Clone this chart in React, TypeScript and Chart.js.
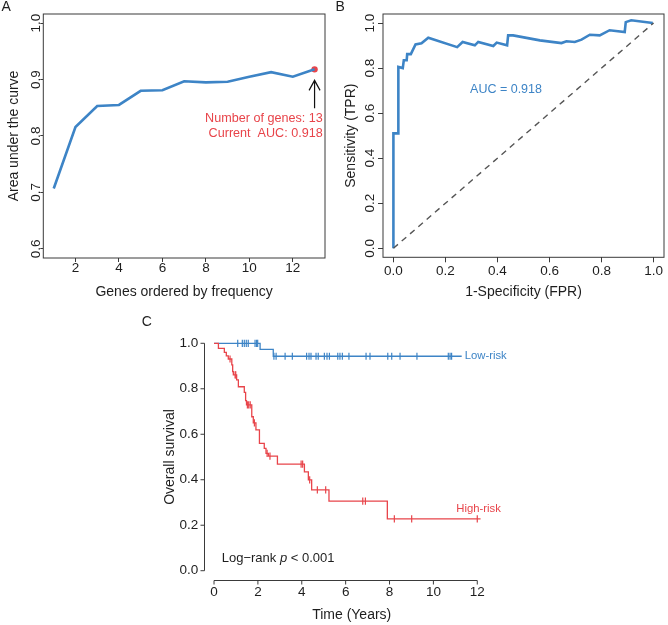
import React, { useEffect, useRef } from 'react';
import { Chart, registerables } from 'chart.js';

Chart.register(...registerables);

const FONT = '"Liberation Sans", Arial, Helvetica, sans-serif';
const BLUE = '#3D84C6';
const RED = '#E8444A';
const INK = '#1e1e1e';
const AXIS = '#3a3a3a';
const TICK_SIZE = 13.5;

// ---------- Panel A: AUC by number of genes ----------
const geneCounts = [1, 2, 3, 4, 5, 6, 7, 8, 9, 10, 11, 12, 13];
const aucByGenes = [0.707, 0.816, 0.853, 0.855, 0.88, 0.881, 0.897, 0.895, 0.896, 0.905, 0.913, 0.905, 0.918];
const aTickX = [2, 4, 6, 8, 10, 12];
const aTickY = [0.6, 0.7, 0.8, 0.9, 1.0];
const aNote1 = 'Number of genes: 13';
const aNote2 = 'Current  AUC: 0.918';

// ---------- Panel B: ROC ----------
const rocFpr = [0, 0, 0.019, 0.019, 0.036, 0.04, 0.051, 0.053, 0.067, 0.085, 0.108, 0.134, 0.245, 0.266, 0.313, 0.326, 0.384, 0.397, 0.437, 0.441, 0.46, 0.563, 0.646, 0.665, 0.697, 0.723, 0.755, 0.793, 0.831, 0.889, 0.893, 0.914, 0.997];
const rocTpr = [0, 0.51, 0.51, 0.805, 0.8, 0.835, 0.835, 0.862, 0.862, 0.905, 0.91, 0.935, 0.893, 0.916, 0.901, 0.916, 0.898, 0.913, 0.901, 0.945, 0.945, 0.923, 0.911, 0.919, 0.916, 0.926, 0.948, 0.945, 0.968, 0.96, 1.004, 1.012, 1.0];
const diagX = [0, 1];
const diagY = [0, 1];
const bTicks = [0, 0.2, 0.4, 0.6, 0.8, 1.0];
const aucText = 'AUC = 0.918';

// ---------- Panel C: Kaplan-Meier ----------
const highTime = [0, 0.2, 0.47, 0.56, 0.65, 0.81, 0.85, 0.88, 1.03, 1.11, 1.38, 1.44, 1.48, 1.72, 1.79, 1.91, 2.07, 2.29, 2.37, 2.48, 2.89, 4.12, 4.3, 4.45, 5.24, 7.9, 12.15];
const highSurv = [1.0, 0.978, 0.96, 0.945, 0.931, 0.905, 0.875, 0.861, 0.839, 0.809, 0.784, 0.748, 0.729, 0.677, 0.65, 0.619, 0.56, 0.538, 0.516, 0.504, 0.469, 0.435, 0.399, 0.355, 0.306, 0.228, 0.228];
const highCensor = [0.73, 0.96, 0.99, 1.52, 1.58, 1.65, 1.84, 2.42, 2.55, 3.97, 4.04, 4.36, 4.71, 5.09, 6.78, 6.9, 8.22, 9.01, 12.0];
const lowTime = [0, 2.1, 2.7, 11.29];
const lowSurv = [1.0, 0.973, 0.943, 0.943];
const lowCensor = [1.08, 1.29, 1.38, 1.47, 1.56, 1.87, 1.94, 1.99, 2.73, 2.83, 3.24, 3.57, 4.22, 4.33, 4.42, 4.65, 4.75, 5.03, 5.15, 5.26, 5.64, 5.74, 5.85, 6.15, 6.93, 7.11, 7.92, 8.1, 8.48, 9.25, 10.68, 10.76, 10.83];
const cTickX = [0, 2, 4, 6, 8, 10, 12];
const cTickY = [0, 0.2, 0.4, 0.6, 0.8, 1.0];
const lowLabel = 'Low-risk';
const highLabel = 'High-risk';

function survAt(times: number[], surv: number[], t: number) {
  let s = surv[0];
  for (let i = 0; i < times.length; i++) if (times[i] <= t) s = surv[i];
  return s;
}

function txt(ctx: any, s: string, x: number, y: number, o: any = {}) {
  ctx.save();
  ctx.font = `${o.italic ? 'italic ' : ''}${o.size ?? TICK_SIZE}px ${FONT}`;
  ctx.fillStyle = o.color ?? INK;
  ctx.textAlign = o.align ?? 'center';
  ctx.textBaseline = 'middle';
  ctx.translate(x, y);
  if (o.rot) ctx.rotate(o.rot);
  ctx.fillText(s, 0, 0);
  ctx.restore();
}

function boxPlugin(id: string, draw: (chart: any) => void) {
  return { id, afterDraw: (chart: any) => draw(chart) };
}

const baseOpts = (pad: any) => ({
  responsive: false,
  animation: false,
  events: [],
  layout: { padding: pad },
  plugins: { legend: { display: false }, tooltip: { enabled: false } },
});

function xyTitle(text: string, padding: any) {
  return { display: true, text, color: INK, font: { family: FONT, size: 14 }, padding };
}

function configA() {
  return {
    type: 'line',
    data: {
      datasets: [
        {
          data: geneCounts.map((g, i) => ({ x: g, y: aucByGenes[i] })),
          borderColor: BLUE, borderWidth: 2.6, pointRadius: 0, tension: 0, fill: false,
        },
        {
          type: 'scatter',
          data: [{ x: geneCounts[geneCounts.length - 1], y: aucByGenes[aucByGenes.length - 1] }],
          pointRadius: 3.2, backgroundColor: RED, borderColor: RED, borderWidth: 0,
        },
      ],
    },
    options: {
      ...baseOpts({ top: 14, right: 9, left: 0, bottom: 0 }),
      scales: {
        x: {
          type: 'linear', min: 0.52, max: 13.48,
          afterBuildTicks: (s: any) => { s.ticks = aTickX.map((v) => ({ value: v })); },
          afterFit: (s: any) => { s.height = 47; },
          ticks: { display: false },
          grid: { drawOnChartArea: false, drawTicks: true, tickLength: 4, color: AXIS, tickColor: AXIS },
          border: { display: false },
          title: xyTitle('Genes ordered by frequency', { top: 0, bottom: 4.6 }),
        },
        y: {
          type: 'linear', min: 0.584, max: 1.016,
          afterBuildTicks: (s: any) => { s.ticks = aTickY.map((v) => ({ value: v })); },
          afterFit: (s: any) => { s.width = 43.3; },
          ticks: { display: false },
          grid: { drawOnChartArea: false, drawTicks: true, tickLength: 3, color: AXIS, tickColor: AXIS },
          border: { display: false },
          title: xyTitle('Area under the curve', { top: 6.1, bottom: 0 }),
        },
      },
    },
    plugins: [
      boxPlugin('panelA', (chart) => {
        const { ctx, chartArea: a, scales } = chart;
        const xs = scales.x, ys = scales.y;
        ctx.save();
        ctx.strokeStyle = AXIS; ctx.lineWidth = 1;
        ctx.strokeRect(a.left, a.top, a.right - a.left, a.bottom - a.top);
        ctx.restore();
        aTickY.forEach((v) => txt(ctx, v.toFixed(1), 36.7, ys.getPixelForValue(v), { rot: -Math.PI / 2 }));
        aTickX.forEach((v) => txt(ctx, String(v), xs.getPixelForValue(v), 268.3));
        txt(ctx, 'A', 1.5, 7.5, { align: 'left', size: 14 });
        // arrow pointing at the final point
        const px = xs.getPixelForValue(geneCounts[geneCounts.length - 1]);
        const py = ys.getPixelForValue(aucByGenes[aucByGenes.length - 1]);
        const tip = py + 11, base = py + 39;
        ctx.save();
        ctx.strokeStyle = '#111'; ctx.lineWidth = 1.2;
        ctx.beginPath();
        ctx.moveTo(px, base); ctx.lineTo(px, tip);
        ctx.moveTo(px - 5.5, tip + 10); ctx.lineTo(px, tip); ctx.lineTo(px + 5.5, tip + 10);
        ctx.stroke();
        ctx.restore();
        txt(ctx, aNote1, 322.7, 118.3, { align: 'right', color: RED, size: 12.6 });
        txt(ctx, aNote2, 322.7, 133.3, { align: 'right', color: RED, size: 12.6 });
      }),
    ],
  };
}

function configB() {
  return {
    type: 'line',
    data: {
      datasets: [
        {
          data: diagX.map((x, i) => ({ x, y: diagY[i] })),
          borderColor: '#555', borderWidth: 1.4, borderDash: [6, 5], pointRadius: 0, fill: false,
        },
        {
          data: rocFpr.map((x, i) => ({ x, y: rocTpr[i] })),
          borderColor: BLUE, borderWidth: 2.6, pointRadius: 0, tension: 0, fill: false,
        },
      ],
    },
    options: {
      ...baseOpts({ top: 14, right: 4, left: 0, bottom: 0 }),
      scales: {
        x: {
          type: 'linear', min: -0.04, max: 1.04,
          afterBuildTicks: (s: any) => { s.ticks = bTicks.map((v) => ({ value: v })); },
          afterFit: (s: any) => { s.height = 47.7; },
          ticks: { display: false },
          grid: { drawOnChartArea: false, drawTicks: true, tickLength: 5, color: AXIS, tickColor: AXIS },
          border: { display: false },
          title: xyTitle('1-Specificity (FPR)', { top: 0, bottom: 4.6 }),
        },
        y: {
          type: 'linear', min: -0.04, max: 1.04,
          afterBuildTicks: (s: any) => { s.ticks = bTicks.map((v) => ({ value: v })); },
          afterFit: (s: any) => { s.width = 49; },
          ticks: { display: false },
          grid: { drawOnChartArea: false, drawTicks: true, tickLength: 5, color: AXIS, tickColor: AXIS },
          border: { display: false },
          title: xyTitle('Sensitivity (TPR)', { top: 8.3, bottom: 0 }),
        },
      },
    },
    plugins: [
      boxPlugin('panelB', (chart) => {
        const { ctx, chartArea: a, scales } = chart;
        const xs = scales.x, ys = scales.y;
        ctx.save();
        ctx.strokeStyle = AXIS; ctx.lineWidth = 1;
        ctx.strokeRect(a.left, a.top, a.right - a.left, a.bottom - a.top);
        ctx.restore();
        bTicks.forEach((v) => txt(ctx, v.toFixed(1), 36.7, ys.getPixelForValue(v), { rot: -Math.PI / 2 }));
        bTicks.forEach((v) => txt(ctx, v.toFixed(1), xs.getPixelForValue(v), 271.7));
        txt(ctx, 'B', 1.5, 7.5, { align: 'left', size: 14 });
        txt(ctx, aucText, 172, 90, { color: BLUE, size: 12.5 });
      }),
    ],
  };
}

function configC() {
  const censorPts = (times: number[], tt: number[], ss: number[]) => times.map((t) => ({ x: t, y: survAt(tt, ss, t) }));
  return {
    type: 'line',
    data: {
      datasets: [
        {
          data: highTime.map((x, i) => ({ x, y: highSurv[i] })),
          stepped: true, borderColor: RED, borderWidth: 1.3, pointRadius: 0, fill: false,
        },
        {
          data: lowTime.map((x, i) => ({ x, y: lowSurv[i] })),
          stepped: true, borderColor: BLUE, borderWidth: 1.3, pointRadius: 0, fill: false,
        },
        {
          type: 'scatter', showLine: false,
          data: censorPts(highCensor, highTime, highSurv),
          pointStyle: 'line', rotation: 90, pointRadius: 3.6, borderColor: RED, borderWidth: 1.2,
        },
        {
          type: 'scatter', showLine: false,
          data: censorPts(lowCensor, lowTime, lowSurv),
          pointStyle: 'line', rotation: 90, pointRadius: 3.6, borderColor: BLUE, borderWidth: 1.2,
        },
      ],
    },
    options: {
      ...baseOpts({ top: 29.2, right: 42.2, left: 0, bottom: 0 }),
      scales: {
        x: {
          type: 'linear', min: -0.48, max: 12.48,
          afterFit: (s: any) => { s.height = 45.2; },
          ticks: { display: false },
          grid: { display: false },
          border: { display: false },
        },
        y: {
          type: 'linear', min: -0.04, max: 1.04,
          afterFit: (s: any) => { s.width = 73.5; },
          ticks: { display: false },
          grid: { display: false },
          border: { display: false },
          title: xyTitle('Overall survival', { top: 31.6, bottom: 0 }),
        },
      },
    },
    plugins: [
      boxPlugin('panelC', (chart) => {
        const { ctx, chartArea: a, scales } = chart;
        const xs = scales.x, ys = scales.y;
        const ax = Math.round(a.left) + 0.5;
        const ay = Math.round(a.bottom) + 0.5;
        ctx.save();
        ctx.strokeStyle = AXIS; ctx.lineWidth = 1;
        ctx.beginPath();
        ctx.moveTo(ax, ys.getPixelForValue(cTickY[0]));
        ctx.lineTo(ax, ys.getPixelForValue(cTickY[cTickY.length - 1]));
        cTickY.forEach((v) => { const y = ys.getPixelForValue(v); ctx.moveTo(ax, y); ctx.lineTo(ax - 4, y); });
        ctx.moveTo(xs.getPixelForValue(cTickX[0]), ay);
        ctx.lineTo(xs.getPixelForValue(cTickX[cTickX.length - 1]), ay);
        cTickX.forEach((v) => { const x = xs.getPixelForValue(v); ctx.moveTo(x, ay); ctx.lineTo(x, ay + 4); });
        ctx.stroke();
        ctx.restore();
        cTickY.forEach((v) => txt(ctx, v.toFixed(1), 68.3, ys.getPixelForValue(v), { align: 'right' }));
        cTickX.forEach((v) => txt(ctx, String(v), xs.getPixelForValue(v), 287.3));
        txt(ctx, 'Time (Years)', 221.7, 310.3, { size: 14 });
        txt(ctx, 'C', 16.7, 17.5, { size: 14 });
        // log-rank text
        ctx.save();
        const parts = [
          { s: 'Log\u2212rank ', it: false },
          { s: 'p', it: true },
          { s: ' < 0.001', it: false },
        ];
        let x = 91.7;
        parts.forEach((p) => {
          ctx.font = `${p.it ? 'italic ' : ''}13px ${FONT}`;
          txt(ctx, p.s, x, 253.3, { align: 'left', size: 13, italic: p.it });
          x += ctx.measureText(p.s).width;
        });
        ctx.restore();
        const lx = xs.getPixelForValue(lowTime[lowTime.length - 1]) + 3;
        const ly = ys.getPixelForValue(lowSurv[lowSurv.length - 1]);
        txt(ctx, lowLabel, lx, ly, { align: 'left', color: BLUE, size: 11.3 });
        const hx = xs.getPixelForValue(highTime[highTime.length - 1]) - 2;
        const hy = ys.getPixelForValue(highSurv[highSurv.length - 1]) - 10;
        txt(ctx, highLabel, hx, hy, { color: RED, size: 11.3 });
      }),
    ],
  };
}

function ChartCanvas({ left, top, width, height, build }: any) {
  const ref = useRef<HTMLCanvasElement>(null);
  useEffect(() => {
    const chart = new Chart(ref.current as HTMLCanvasElement, build() as any);
    return () => chart.destroy();
  }, []);
  return (
    <canvas
      ref={ref}
      width={width}
      height={height}
      style={{ position: 'absolute', left, top, width, height, display: 'block' }}
    />
  );
}

export default function App() {
  return (
    <div style={{ position: 'absolute', left: 0, top: 0, width: 668, height: 625, background: '#fff', overflow: 'hidden' }}>
      <ChartCanvas left={0} top={0} width={334} height={305} build={configA} />
      <ChartCanvas left={334} top={0} width={334} height={305} build={configB} />
      <ChartCanvas left={130} top={305} width={400} height={320} build={configC} />
    </div>
  );
}
